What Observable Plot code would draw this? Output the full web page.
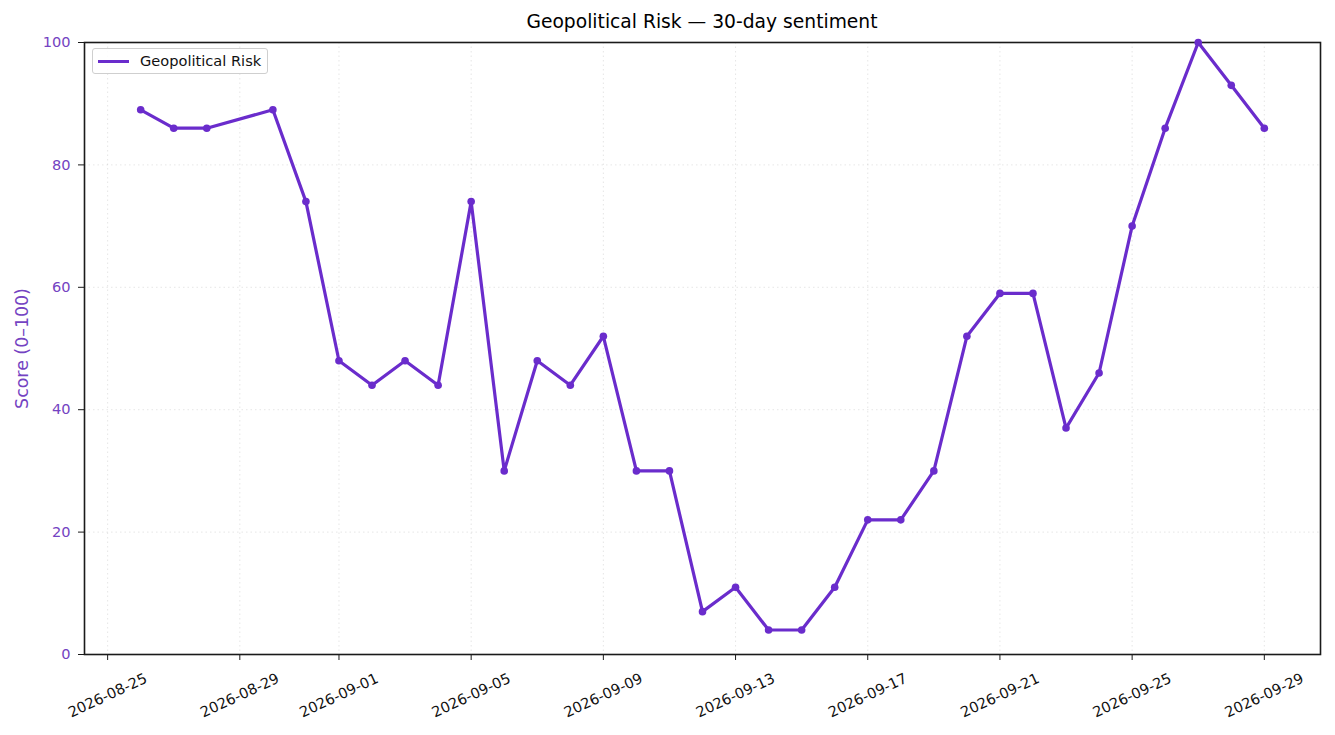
<!DOCTYPE html>
<html>
<head>
<meta charset="utf-8">
<script src="https://cdn.jsdelivr.net/npm/d3@7"></script>
<script src="https://cdn.jsdelivr.net/npm/@observablehq/plot@0.6"></script>
<style>
html, body { margin: 0; padding: 0; background: #fff; }
#wrap { position: relative; width: 1335px; height: 735px; font-family: "DejaVu Sans", sans-serif; overflow: hidden; }
#title { position: absolute; top: 13px; left: 702px; transform: translateX(-50%); white-space: nowrap; font-size: 18.7px; line-height: 18.7px; color: #000; }
#legend { position: absolute; left: 92px; top: 48px; width: 174px; height: 24px; border: 1px solid #cfcfcf; border-radius: 3px; background: rgba(255,255,255,0.85); box-sizing: content-box; }
#legend .swatch { position: absolute; left: 5px; top: 11px; width: 31px; height: 3px; }
#legend .lab { position: absolute; left: 47px; top: 4px; font-size: 14.6px; line-height: 16px; color: #111; white-space: nowrap; }
svg { position: absolute; left: 0; top: 0; }
</style>
</head>
<body>
<div id="wrap"></div>
<script>
// ---- data ----
const seriesName = "Geopolitical Risk";
const chartTitle = "Geopolitical Risk — 30-day sentiment";
const yLabel = "Score (0–100)";
const dates = [
  "2026-08-26", "2026-08-27", "2026-08-28", "2026-08-30", "2026-08-31",
  "2026-09-01", "2026-09-02", "2026-09-03", "2026-09-04", "2026-09-05",
  "2026-09-06", "2026-09-07", "2026-09-08", "2026-09-09", "2026-09-10",
  "2026-09-11", "2026-09-12", "2026-09-13", "2026-09-14", "2026-09-15",
  "2026-09-16", "2026-09-17", "2026-09-18", "2026-09-19", "2026-09-20",
  "2026-09-21", "2026-09-22", "2026-09-23", "2026-09-24", "2026-09-25",
  "2026-09-26", "2026-09-27", "2026-09-28", "2026-09-29"
];
const scores = [
  89, 86, 86, 89, 74,
  48, 44, 48, 44, 74,
  30, 48, 44, 52, 30,
  30, 7, 11, 4, 4,
  11, 22, 22, 30, 52,
  59, 59, 37, 46, 70,
  86, 100, 93, 86
];
const xTickLabels = [
  "2026-08-25", "2026-08-29", "2026-09-01", "2026-09-05", "2026-09-09",
  "2026-09-13", "2026-09-17", "2026-09-21", "2026-09-25", "2026-09-29"
];
const yTicks = [0, 20, 40, 60, 80, 100];

// ---- styles ----
const lineColor = "#6a2ccc";
const tickTextColor = "#7443c2";

const parse = s => new Date(s + "T00:00:00Z");
const data = dates.map((d, i) => ({date: parse(d), score: scores[i]}));
const xTicks = xTickLabels.map(parse);
const t0 = data[0].date.getTime(), t1 = data[data.length - 1].date.getTime();
const pad = (t1 - t0) * 0.05;

const wrap = document.getElementById("wrap");

const chart = Plot.plot({
  width: 1335,
  height: 735,
  marginLeft: 84,
  marginRight: 15,
  marginTop: 42,
  marginBottom: 81,
  style: {fontFamily: "DejaVu Sans, sans-serif", background: "transparent"},
  x: {type: "utc", domain: [new Date(t0 - pad), new Date(t1 + pad)]},
  y: {domain: [0, 100]},
  marks: [
    Plot.gridX(xTicks, {stroke: "#b8b8b8", strokeOpacity: 0.45, strokeDasharray: "1.5,3", strokeWidth: 0.8}),
    Plot.gridY(yTicks, {stroke: "#b8b8b8", strokeOpacity: 0.45, strokeDasharray: "1.5,3", strokeWidth: 0.8}),
    Plot.axisY(yTicks, {
      tickSize: 6, tickPadding: 8, stroke: "#1a1a1a", fill: tickTextColor, fontSize: 14.6, label: null
    }),
    Plot.text([yLabel], {
      text: d => d, frameAnchor: "left", dx: -62, rotate: -90,
      textAnchor: "middle", lineAnchor: "middle", fontSize: 17.4, fill: tickTextColor
    }),
    Plot.axisX(xTicks, {tickSize: 6, tickFormat: () => "", stroke: "#1a1a1a", label: null}),
    Plot.text(xTicks, {
      x: d => d, frameAnchor: "bottom", dy: 41, rotate: -25,
      text: (d, i) => xTickLabels[i], textAnchor: "middle", lineAnchor: "middle",
      fontSize: 14.6, fill: "#111"
    }),
    Plot.frame({stroke: "#1a1a1a", strokeWidth: 1.6}),
    Plot.line(data, {x: "date", y: "score", stroke: lineColor, strokeWidth: 3.2, strokeLinejoin: "round"}),
    Plot.dot(data, {x: "date", y: "score", r: 3.8, fill: lineColor, stroke: "none"})
  ]
});
wrap.appendChild(chart);

const title = document.createElement("div");
title.id = "title";
title.textContent = chartTitle;
wrap.appendChild(title);

const legend = document.createElement("div");
legend.id = "legend";
const sw = document.createElement("div");
sw.className = "swatch";
sw.style.background = lineColor;
const lab = document.createElement("div");
lab.className = "lab";
lab.textContent = seriesName;
legend.appendChild(sw);
legend.appendChild(lab);
wrap.appendChild(legend);
</script>
</body>
</html>
